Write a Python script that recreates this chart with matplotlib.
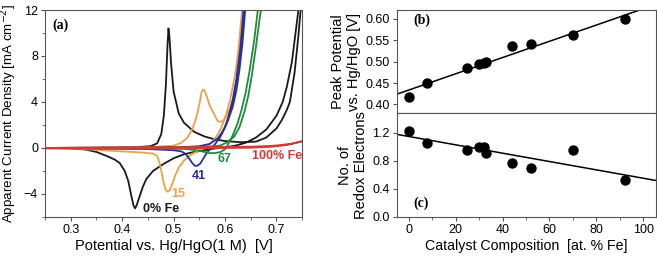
import numpy as np
import matplotlib
matplotlib.use("Agg")
import matplotlib.pyplot as plt
from matplotlib.ticker import MultipleLocator

plt.rcParams['font.family'] = ['Liberation Sans', 'DejaVu Sans']

# ---- panel (a): cyclic voltammograms (potential V, current mA/cm2)
fe0_v = [0.25, 0.35, 0.42, 0.455, 0.468, 0.476, 0.481, 0.485, 0.488, 0.490, 0.492, 0.495, 0.50, 0.51,
         0.52, 0.54, 0.56, 0.58, 0.60, 0.63, 0.66, 0.68, 0.70, 0.71, 0.72, 0.726, 0.735, 0.742, 0.748,
         0.744, 0.73, 0.72, 0.712, 0.70, 0.68, 0.66, 0.64, 0.62, 0.60, 0.58, 0.56, 0.54, 0.52, 0.50,
         0.48, 0.46, 0.447, 0.44, 0.434, 0.428, 0.425, 0.422, 0.418, 0.412, 0.405, 0.395, 0.385, 0.37,
         0.35, 0.33, 0.30, 0.25]
fe0_j = [0.0, 0.02, 0.05, 0.15, 0.4, 1.2, 2.8, 5.5, 8.8, 10.4, 9.6, 7.4, 4.9, 3.0,
         2.2, 1.4, 1.0, 0.75, 0.6, 0.5, 0.55, 0.9, 1.7, 2.4, 3.3, 4.0, 6.5, 9.5, 12.5,
         12.5, 7.5, 5.3, 4.0, 2.8, 1.6, 0.9, 0.45, 0.2, 0.05, -0.05, -0.2, -0.35, -0.55, -0.9,
         -1.4, -2.0, -2.7, -3.4, -4.2, -5.0, -5.25, -5.0, -4.2, -2.9, -2.0, -1.3, -1.0, -0.7,
         -0.35, -0.15, -0.02, 0.0]

fe15_v = [0.25, 0.40, 0.46, 0.50, 0.515, 0.527, 0.537, 0.545, 0.55, 0.554, 0.557, 0.56, 0.565, 0.57,
          0.578, 0.586, 0.595, 0.60, 0.61, 0.617, 0.623, 0.628, 0.633, 0.637,
          0.634, 0.63, 0.625, 0.62, 0.61, 0.60, 0.59, 0.58, 0.57, 0.56, 0.545, 0.53, 0.52, 0.51,
          0.503, 0.497, 0.492, 0.488, 0.484, 0.48, 0.476, 0.472, 0.468, 0.46, 0.44, 0.40, 0.36,
          0.32, 0.25]
fe15_j = [0.0, 0.03, 0.08, 0.2, 0.45, 0.9, 1.7, 2.8, 3.8, 4.8, 5.1, 5.0, 4.4, 3.7,
          3.0, 2.3, 2.3, 2.6, 3.4, 4.5, 6.0, 8.0, 10.5, 12.5,
          12.5, 10.5, 8.2, 6.5, 4.2, 2.6, 1.5, 0.8, 0.3, 0.0, -0.3, -0.7, -1.1, -1.7,
          -2.4, -3.2, -3.7, -3.8, -3.6, -2.9, -2.0, -1.2, -0.7, -0.5, -0.4, -0.3, -0.2,
          -0.08, 0.0]

fe41_v = [0.25, 0.45, 0.52, 0.55, 0.57, 0.585, 0.595, 0.605, 0.615, 0.622, 0.628, 0.634, 0.640,
          0.637, 0.63, 0.622, 0.615, 0.607, 0.60, 0.59, 0.58, 0.572, 0.565, 0.558, 0.552, 0.546,
          0.541, 0.536, 0.53, 0.523, 0.515, 0.50, 0.45, 0.35, 0.25]
fe41_j = [0.0, 0.03, 0.08, 0.15, 0.35, 0.8, 1.4, 2.3, 3.6, 5.0, 6.8, 9.2, 12.5,
          12.5, 8.8, 6.0, 4.2, 2.8, 1.8, 0.9, 0.3, -0.05, -0.4, -0.9, -1.35, -1.55,
          -1.55, -1.3, -0.9, -0.5, -0.3, -0.2, -0.1, -0.05, 0.0]

fe67_v = [0.25, 0.50, 0.56, 0.59, 0.605, 0.618, 0.628, 0.638, 0.645, 0.652, 0.66, 0.668, 0.672,
          0.665, 0.657, 0.648, 0.64, 0.632, 0.624, 0.615, 0.607, 0.60, 0.592, 0.58, 0.57, 0.56,
          0.545, 0.52, 0.45, 0.25]
fe67_j = [0.0, 0.03, 0.08, 0.2, 0.5, 1.0, 1.8, 3.2, 4.5, 6.3, 8.8, 11.5, 12.5,
          12.5, 9.5, 6.8, 4.8, 3.3, 2.1, 1.1, 0.4, -0.1, -0.35, -0.45, -0.45, -0.35,
          -0.2, -0.08, -0.03, 0.0]

fe100_v = [0.25, 0.35, 0.45, 0.55, 0.62, 0.66, 0.69, 0.71, 0.73, 0.75,
           0.72, 0.69, 0.65, 0.55, 0.45, 0.25]
fe100_j = [0.0, 0.03, 0.06, 0.08, 0.1, 0.12, 0.18, 0.26, 0.38, 0.58,
           0.25, 0.1, 0.02, -0.03, -0.05, -0.05]

# ---- panels (b) and (c)
composition = [0, 8, 25, 30, 32, 33, 44, 52, 70, 92]
peak_potential = [0.418, 0.449, 0.484, 0.494, 0.496, 0.499, 0.536, 0.540, 0.561, 0.600]
redox_electrons = [1.23, 1.05, 0.95, 0.99, 1.0, 0.91, 0.77, 0.70, 0.95, 0.52]
fit_b = [0.001895, 0.4335]   # slope, intercept
fit_c = [-0.00596, 1.147]

fig = plt.figure(figsize=(6.57, 2.57), dpi=100)
ax = fig.add_axes([0.0685, 0.156, 0.3915, 0.805])
axb = fig.add_axes([0.604, 0.560, 0.395, 0.401])
axc = fig.add_axes([0.604, 0.156, 0.395, 0.404], sharex=axb)

curves = [(fe0_v, fe0_j, '#1a1a1a'), (fe15_v, fe15_j, '#e9a24a'),
          (fe41_v, fe41_j, '#28309a'), (fe67_v, fe67_j, '#1f8c3e'),
          (fe100_v, fe100_j, '#d23a36')]
for v, j, c in curves:
    ax.plot(v, j, color=c, lw=1.3)

ax.set_xlim(0.25, 0.75)
ax.set_ylim(-6, 12)
ax.xaxis.set_minor_locator(MultipleLocator(0.05))
ax.yaxis.set_major_locator(MultipleLocator(4))
ax.yaxis.set_minor_locator(MultipleLocator(2))
ax.set_xticks([0.3, 0.4, 0.5, 0.6, 0.7])
ax.set_xlabel('Potential vs. Hg/HgO(1 M)  [V]', fontsize=10.5, labelpad=2)
ax.set_ylabel('Apparent Current Density [mA cm$^{-2}$]', fontsize=9.6, labelpad=1)
ax.yaxis.set_label_coords(-0.1, 0.5)

lab = dict(fontsize=9, fontweight='bold')
ax.text(0.44, -5.35, '0% Fe', color='#1a1a1a', va='center', **lab)
ax.text(0.496, -4.0, '15', color='#e9a24a', va='center', **lab)
ax.text(0.536, -2.4, '41', color='#28309a', va='center', **lab)
ax.text(0.585, -1.0, '67', color='#1f8c3e', va='center', **lab)
ax.text(0.653, -0.7, '100% Fe', color='#d23a36', va='center', **lab)
ax.text(0.265, 10.7, '(a)', family='Liberation Serif', fontsize=10, fontweight='bold', va='center')

xs = np.array([-5, 105.5])
axb.scatter(composition, peak_potential, s=42, color='black', zorder=3)
axb.plot(xs, fit_b[0] * xs + fit_b[1], color='black', lw=1.1)
axb.set_ylim(0.38, 0.62)
axb.yaxis.set_major_locator(MultipleLocator(0.05))
axb.set_ylabel('Peak Potential\nvs. Hg/HgO [V]', fontsize=10.5, labelpad=3, linespacing=1.25)
axb.text(2, 0.597, '(b)', family='Liberation Serif', fontsize=10, fontweight='bold', va='center')
axb.tick_params(labelbottom=False)

axc.scatter(composition, redox_electrons, s=42, color='black', zorder=3)
axc.plot(xs, fit_c[0] * xs + fit_c[1], color='black', lw=1.1)
axc.set_xlim(-5, 105.5)
axc.set_ylim(0, 1.48)
axc.yaxis.set_major_locator(MultipleLocator(0.4))
axc.xaxis.set_major_locator(MultipleLocator(20))
axc.xaxis.set_minor_locator(MultipleLocator(10))
axc.set_ylabel('No. of\nRedox Electrons', fontsize=10.5, labelpad=3, linespacing=1.25)
axc.set_xlabel('Catalyst Composition  [at. % Fe]', fontsize=10.2, labelpad=2)
axc.text(2, 0.2, '(c)', family='Liberation Serif', fontsize=10, fontweight='bold', va='center')

for a in (ax, axb, axc):
    for s in a.spines.values():
        s.set_color('#555555')
    a.tick_params(which='both', direction='out', labelsize=9, color='#555555', pad=2)
    a.tick_params(which='major', length=3)
    a.tick_params(which='minor', length=2)

fig.savefig('out.png', dpi=100)
